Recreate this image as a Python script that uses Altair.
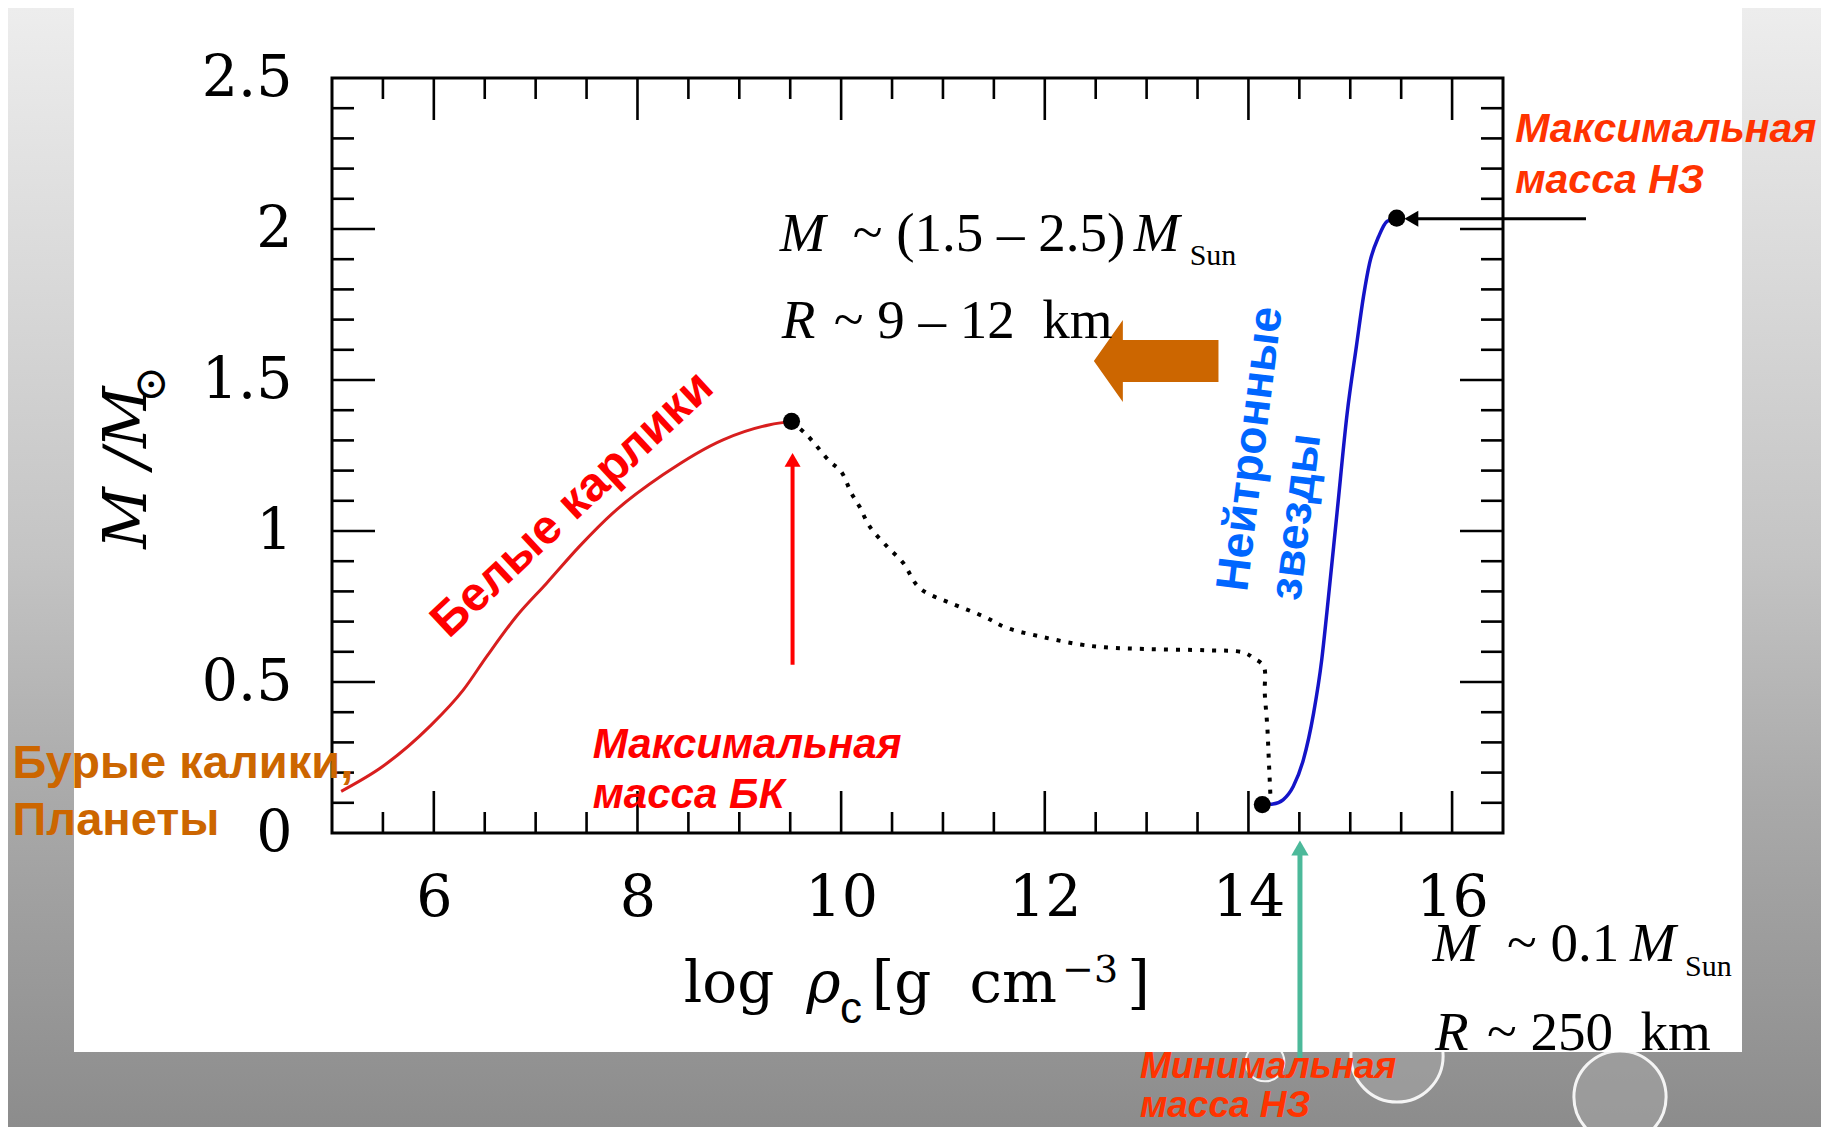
import altair as alt
import pandas as pd

# ---------------- data ----------------
# white-dwarf branch (red, solid)
wd_x = [5.09, 5.50, 5.96, 6.29, 6.52, 6.81, 7.11, 7.43, 7.76, 8.25, 8.84, 9.30, 9.51]
wd_y = [0.138, 0.221, 0.353, 0.474, 0.585, 0.717, 0.828, 0.949, 1.060, 1.186, 1.302, 1.352, 1.363]

# unstable branch (black, dotted)
un_x = [9.51, 9.66, 9.89, 10.00, 10.10, 10.18, 10.28, 10.45, 10.61, 10.74, 10.84, 11.07,
        11.40, 11.63, 11.98, 12.35, 12.59, 13.00, 13.59, 13.95, 14.05, 14.15, 14.16,
        14.185, 14.20, 14.215]
un_y = [1.363, 1.319, 1.230, 1.197, 1.126, 1.081, 1.015, 0.949, 0.894, 0.822, 0.795, 0.762,
        0.717, 0.679, 0.649, 0.624, 0.615, 0.609, 0.605, 0.598, 0.579, 0.552, 0.464,
        0.353, 0.243, 0.130]

# neutron-star branch (blue, solid)
ns_x = [14.14, 14.24, 14.34, 14.44, 14.54, 14.64, 14.72, 14.77, 14.87, 14.97, 15.06,
        15.13, 15.19, 15.28, 15.36, 15.46]
ns_y = [0.094, 0.096, 0.110, 0.154, 0.243, 0.397, 0.574, 0.729, 1.060, 1.391, 1.611,
        1.777, 1.887, 1.976, 2.025, 2.036]

# marked points (max WD, min NS, max NS)
pt_x = [9.513, 14.136, 15.456]
pt_y = [1.363, 0.094, 2.036]

# axis labels and ticks
x_labels = [6, 8, 10, 12, 14, 16]
y_labels = [0, 0.5, 1, 1.5, 2, 2.5]
x_major = [6, 8, 10, 12, 14, 16]
x_minor = [5.5, 6.5, 7, 7.5, 8.5, 9, 9.5, 10.5, 11, 11.5, 12.5, 13, 13.5, 14.5, 15, 15.5]
y_major = [0.5, 1.0, 1.5, 2.0]
y_minor = [0.1, 0.2, 0.3, 0.4, 0.6, 0.7, 0.8, 0.9, 1.1, 1.2, 1.3, 1.4,
           1.6, 1.7, 1.8, 1.9, 2.1, 2.2, 2.3, 2.4]

# annotation texts (positions in data units)
wd_text = ["Белые карлики"]
wd_text_x = [7.364]
wd_text_y = [1.087]

bd_text = ["Бурые калики,", "Планеты"]
bd_text_x = [1.863, 1.863]
bd_text_y = [0.183, -0.006]

maxwd_text = ["Максимальная", "масса БК"]
maxwd_text_x = [7.561, 7.561]
maxwd_text_y = [0.249, 0.084]

maxns_text = ["Максимальная", "масса НЗ"]
maxns_text_x = [16.62, 16.62]
maxns_text_y = [2.289, 2.120]

minns_text = ["Минимальная", "масса НЗ"]
minns_text_x = [12.934, 12.934]
minns_text_y = [-0.810, -0.939]

ns_text = ["Нейтронные", "звезды"]
ns_text_x = [13.985, 14.506]
ns_text_y = [0.796, 0.766]

f_ital = ["M", "M", "R", "M", "M", "R"]
f_ital_x = [9.398, 12.873, 9.417, 15.807, 17.748, 15.831]
f_ital_y = [1.926, 1.926, 1.639, -0.424, -0.424, -0.7175]

f_rom = ["~ (1.5 – 2.5)", "~ 9 – 12\u00a0 km", "~ 0.1", "~ 250\u00a0 km"]
f_rom_x = [10.113, 9.928, 16.539, 16.342]
f_rom_y = [1.926, 1.639, -0.424, -0.7175]

f_sub = ["Sun", "Sun"]
f_sub_x = [13.423, 18.288]
f_sub_y = [1.882, -0.474]

xt_rom = ["log", "[g", "cm", "]"]
xt_rom_x = [8.454, 10.30, 11.26, 12.81]
xt_rom_y = [-0.558, -0.558, -0.558, -0.558]
xt_rho = ["ρ"]
xt_rho_x = [9.66]
xt_rho_y = [-0.558]
xt_c = ["c"]
xt_c_x = [9.99]
xt_c_y = [-0.628]
xt_sup = ["−3"]
xt_sup_x = [12.17]
xt_sup_y = [-0.492]

yt_main = ["M /M"]
yt_main_x = [3.170]
yt_main_y = [0.941]
yt_sun = ["⊙"]
yt_sun_x = [3.36]
yt_sun_y = [1.425]

# arrows
red_arrow_x = [9.523]
red_arrow_y = [0.557]
red_arrow_y2 = [1.215]
red_head_y = [1.2355]

green_arrow_x = [14.506]
green_arrow_y = [-0.75]
green_arrow_y2 = [-0.06]
green_head_y = [-0.050]

black_arrow_x = [17.315]
black_arrow_x2 = [15.60]
black_arrow_y = [2.034]
black_head_x = [15.60]

block_arrow_x = [13.094]
block_arrow_y = [1.563]

# ---------------- layout ----------------
W, H = 1171, 755
PADL, PADT, PADR, PADB = 324, 70, 318, 294

xs = alt.Scale(domain=[5, 16.5], nice=False, zero=False)
ys = alt.Scale(domain=[0, 2.5], nice=False, zero=False)

x_axis = alt.Axis(values=x_labels, ticks=False, tickSize=0, domain=False, grid=False,
                  labelFont="DejaVu Serif", labelFontSize=57, labelPadding=37,
                  labelColor="black", labelFlush=False, labelOverlap=False,
                  format="~g", title=None, zindex=1)
y_axis = alt.Axis(values=y_labels, ticks=False, tickSize=0, domain=False, grid=False,
                  labelFont="DejaVu Serif", labelFontSize=57, labelPadding=40,
                  labelColor="black", labelFlush=False, labelOverlap=False,
                  format="~g", title=None, zindex=1)


def X(f="x"):
    return alt.X(f"{f}:Q", scale=xs, axis=x_axis)


def Y(f="y"):
    return alt.Y(f"{f}:Q", scale=ys, axis=y_axis)


one = pd.DataFrame({"k": [0]})

# background gradient of the slide
bg = alt.Chart(one).mark_rect(
    fill=alt.LinearGradient(
        gradient="linear",
        stops=[alt.GradientStop(color="#ededed", offset=0),
               alt.GradientStop(color="#c4c4c4", offset=0.49),
               alt.GradientStop(color="#a9a9a9", offset=0.71),
               alt.GradientStop(color="#8c8c8c", offset=1)],
        x1=0, x2=0, y1=0, y2=1)
).encode(x=alt.value(-PADL), x2=alt.value(W + PADR), y=alt.value(-PADT), y2=alt.value(H + PADB))

# glass bubbles (decoration)
bub1 = alt.Chart(one).mark_point(shape="circle", filled=True, fill="#a4a4a4", fillOpacity=0.6,
                                 stroke="#f4f4f4", strokeWidth=3, size=8500).encode(
    x=alt.value(1288), y=alt.value(1019))
bub2 = alt.Chart(one).mark_point(shape="circle", filled=True, fill="#a4a4a4", fillOpacity=0.6,
                                 stroke="#f4f4f4", strokeWidth=3, size=8500).encode(
    x=alt.value(1065), y=alt.value(978))
bub3 = alt.Chart(one).mark_point(shape="circle", filled=True, fill="#a4a4a4", fillOpacity=0.6,
                                 stroke="#f4f4f4", strokeWidth=2, size=1500).encode(
    x=alt.value(933), y=alt.value(984))

white = alt.Chart(one).mark_rect(fill="white").encode(
    x=alt.value(-258), x2=alt.value(1410), y=alt.value(-72), y2=alt.value(974))

# ticks (inward, on all four sides)
TK = dict(color="black", strokeWidth=2.6)
dxM = pd.DataFrame({"x": x_major})
dxm = pd.DataFrame({"x": x_minor})
dyM = pd.DataFrame({"y": y_major})
dym = pd.DataFrame({"y": y_minor})
ticks = [
    alt.Chart(dxM).mark_rule(**TK).encode(x=X(), y=alt.value(H), y2=alt.value(H - 42)),
    alt.Chart(dxm).mark_rule(**TK).encode(x=X(), y=alt.value(H), y2=alt.value(H - 21)),
    alt.Chart(dxM).mark_rule(**TK).encode(x=X(), y=alt.value(0), y2=alt.value(42)),
    alt.Chart(dxm).mark_rule(**TK).encode(x=X(), y=alt.value(0), y2=alt.value(21)),
    alt.Chart(dyM).mark_rule(**TK).encode(y=Y(), x=alt.value(0), x2=alt.value(43)),
    alt.Chart(dym).mark_rule(**TK).encode(y=Y(), x=alt.value(0), x2=alt.value(22)),
    alt.Chart(dyM).mark_rule(**TK).encode(y=Y(), x=alt.value(W), x2=alt.value(W - 43)),
    alt.Chart(dym).mark_rule(**TK).encode(y=Y(), x=alt.value(W), x2=alt.value(W - 22)),
]

frame = alt.Chart(one).mark_rect(fillOpacity=0, stroke="black", strokeWidth=3).encode(
    x=alt.value(0), x2=alt.value(W), y=alt.value(0), y2=alt.value(H))


def series(xv, yv):
    return pd.DataFrame({"x": xv, "y": yv, "i": list(range(len(xv)))})


wd_line = alt.Chart(series(wd_x, wd_y)).mark_line(
    color="#d81e1e", strokeWidth=3, interpolate="monotone").encode(x=X(), y=Y(), order="i:Q")
un_line = alt.Chart(series(un_x, un_y)).mark_line(
    color="black", strokeWidth=4, strokeDash=[4, 8], strokeCap="butt",
    interpolate="catmull-rom").encode(x=X(), y=Y(), order="i:Q")
ns_line = alt.Chart(series(ns_x, ns_y)).mark_line(
    color="#1414c8", strokeWidth=3.5, interpolate="monotone").encode(x=X(), y=Y(), order="i:Q")

dots = alt.Chart(pd.DataFrame({"x": pt_x, "y": pt_y})).mark_circle(
    color="black", opacity=1, size=290).encode(x=X(), y=Y())

# arrows
red_shaft = alt.Chart(pd.DataFrame({"x": red_arrow_x, "y": red_arrow_y, "y2": red_arrow_y2})).mark_rule(
    color="#ff0000", strokeWidth=4).encode(x=X(), y=Y(), y2="y2:Q")
red_head = alt.Chart(pd.DataFrame({"x": red_arrow_x, "y": red_head_y})).mark_point(
    shape="triangle-up", filled=True, color="#ff0000", opacity=1, size=256).encode(x=X(), y=Y())

green_shaft = alt.Chart(pd.DataFrame({"x": green_arrow_x, "y": green_arrow_y, "y2": green_arrow_y2})).mark_rule(
    color="#4cb99a", strokeWidth=5).encode(x=X(), y=Y(), y2="y2:Q")
green_head = alt.Chart(pd.DataFrame({"x": green_arrow_x, "y": green_head_y})).mark_point(
    shape="triangle-up", filled=True, color="#4cb99a", opacity=1, size=300).encode(x=X(), y=Y())

black_shaft = alt.Chart(pd.DataFrame({"x": black_arrow_x, "x2": black_arrow_x2, "y": black_arrow_y})).mark_rule(
    color="black", strokeWidth=3).encode(x=X(), x2="x2:Q", y=Y())
black_head = alt.Chart(pd.DataFrame({"x": black_head_x, "y": black_arrow_y})).mark_point(
    shape="triangle-left", filled=True, color="black", opacity=1, size=256).encode(x=X(), y=Y())

block_path = ("M -1 0 L -0.535 -0.658 L -0.535 -0.337 L 1 -0.337 L 1 0.337 "
              "L -0.535 0.337 L -0.535 0.658 Z")
block = alt.Chart(pd.DataFrame({"x": block_arrow_x, "y": block_arrow_y})).mark_point(
    shape=block_path, filled=True, color="#cc6600", opacity=1, strokeWidth=0, size=15525
).encode(x=X(), y=Y())


def texts(tv, xv, yv, **kw):
    df = pd.DataFrame({"t": tv, "x": xv, "y": yv})
    return alt.Chart(df).mark_text(**kw).encode(x=X(), y=Y(), text="t:N")


SANS = "Liberation Sans"
SERIF = "Liberation Serif"
MATH = "DejaVu Serif"

txt = [
    texts(wd_text, wd_text_x, wd_text_y, font=SANS, fontSize=48, fontWeight="bold",
          color="#ff0000", angle=317, align="center", baseline="middle"),
    texts(bd_text, bd_text_x, bd_text_y, font=SANS, fontSize=47, fontWeight="bold",
          color="#cc6600", align="left", baseline="alphabetic"),
    texts(maxwd_text, maxwd_text_x, maxwd_text_y, font=SANS, fontSize=42, fontWeight="bold",
          fontStyle="italic", color="#ff0000", align="left", baseline="alphabetic"),
    texts(maxns_text, maxns_text_x, maxns_text_y, font=SANS, fontSize=41, fontWeight="bold",
          fontStyle="italic", color="#ff3300", align="left", baseline="alphabetic"),
    texts(minns_text, minns_text_x, minns_text_y, font=SANS, fontSize=37, fontWeight="bold",
          fontStyle="italic", color="#ff3300", align="left", baseline="alphabetic"),
    texts(ns_text, ns_text_x, ns_text_y, font=SANS, fontSize=46, fontWeight="bold",
          color="#0066ff", angle=277, align="left", baseline="alphabetic"),
    texts(f_ital, f_ital_x, f_ital_y, font=SERIF, fontSize=55, fontStyle="italic",
          color="black", align="left", baseline="alphabetic"),
    texts(f_rom, f_rom_x, f_rom_y, font=SERIF, fontSize=55, color="black",
          align="left", baseline="alphabetic"),
    texts(f_sub, f_sub_x, f_sub_y, font=SERIF, fontSize=30, color="black",
          align="left", baseline="alphabetic"),
    texts(xt_rom, xt_rom_x, xt_rom_y, font=MATH, fontSize=58, color="black",
          align="left", baseline="alphabetic"),
    texts(xt_rho, xt_rho_x, xt_rho_y, font=MATH, fontSize=58, fontStyle="italic",
          color="black", align="left", baseline="alphabetic"),
    texts(xt_c, xt_c_x, xt_c_y, font=SANS, fontSize=44, color="black",
          align="left", baseline="alphabetic"),
    texts(xt_sup, xt_sup_x, xt_sup_y, font=MATH, fontSize=38, color="black",
          align="left", baseline="alphabetic"),
    texts(yt_main, yt_main_x, yt_main_y, font=MATH, fontSize=60, fontStyle="italic",
          color="black", angle=270, align="left", baseline="alphabetic"),
    texts(yt_sun, yt_sun_x, yt_sun_y, font=MATH, fontSize=44, color="black",
          angle=270, align="left", baseline="alphabetic"),
]

layers = [bg, bub1, bub2, bub3, white] + ticks + [frame, wd_line, un_line, ns_line, dots,
          red_shaft, red_head, green_shaft, green_head, black_shaft, black_head, block] + txt

chart = alt.layer(*layers).properties(
    width=W, height=H,
    autosize=alt.AutoSizeParams(type="none"),
    padding={"left": PADL, "top": PADT, "right": PADR, "bottom": PADB},
).configure_view(strokeWidth=0)

chart.save("out.html", embed_options={"renderer": "svg", "actions": False})
